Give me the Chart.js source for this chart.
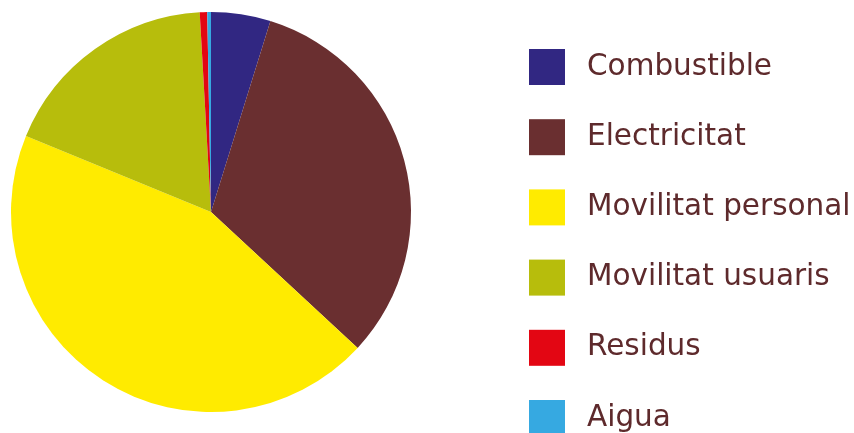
<!DOCTYPE html>
<html>
<head>
<meta charset="utf-8">
<script src="https://cdn.jsdelivr.net/npm/chart.js@4"></script>
<style>
  html, body { margin: 0; padding: 0; background: #fff; overflow: hidden; }
  #wrap { width: 854px; height: 433px; position: relative; }
</style>
</head>
<body>
<div id="wrap"><canvas id="pastis"></canvas></div>
<script>
var categories = ['Combustible', 'Electricitat', 'Movilitat personal', 'Movilitat usuaris', 'Residus', 'Aigua'];
var percentatges = [4.8, 32.1, 44.3, 17.9, 0.6, 0.3];
var colors = ['#312782', '#6a2f30', '#ffeb00', '#b7bd0c', '#e30613', '#36a9e1'];

// llegenda dibuixada a mà a la dreta del pastís
var llegenda = {
  id: 'llegenda',
  afterDraw: function (chart) {
    var ctx = chart.ctx;
    var ds = chart.data.datasets[0];
    ctx.save();
    ctx.font = '29.5px "DejaVu Sans"';
    ctx.textBaseline = 'alphabetic';
    chart.data.labels.forEach(function (txt, i) {
      var y = 49 + i * 70.2;
      ctx.fillStyle = ds.backgroundColor[i];
      ctx.fillRect(529, y, 36, 36);
      ctx.fillStyle = '#5e2a2c';
      ctx.fillText(txt, 587, y + 25.5);
    });
    ctx.restore();
  }
};

var ctx = document.getElementById('pastis').getContext('2d');
var pastis = new Chart(ctx, {
  type: 'pie',
  data: {
    labels: categories,
    datasets: [{
      data: percentatges,
      backgroundColor: colors,
      borderWidth: 0,
      hoverOffset: 0
    }]
  },
  options: {
    responsive: true,
    maintainAspectRatio: false,
    animation: false,
    layout: { padding: { left: 11, top: 12, right: 443, bottom: 21 } },
    plugins: {
      legend: { display: false },
      tooltip: { enabled: false }
    }
  },
  plugins: [llegenda]
});
</script>
</body>
</html>
